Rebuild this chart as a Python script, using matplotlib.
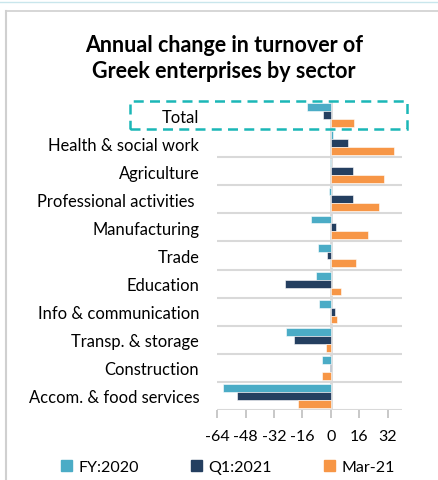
import matplotlib
matplotlib.use("Agg")
import matplotlib.pyplot as plt
from matplotlib.patches import Rectangle
from matplotlib.lines import Line2D
import numpy as np

plt.rcParams['font.family'] = ['Lato', 'DejaVu Sans']

sectors = ["Total", "Health & social work", "Agriculture", "Professional activities ",
           "Manufacturing", "Trade", "Education", "Info & communication",
           "Transp. & storage", "Construction", "Accom. & food services"]
fy2020 = [-13.2, 1.5, -0.3, -1.0, -11.1, -7.0, -8.5, -6.6, -25.0, -4.9, -61.0]
q1_2021 = [-4.5, 9.6, 12.4, 12.4, 3.2, -2.1, -25.8, 2.4, -20.5, -0.3, -52.8]
mar21 = [13.2, 35.6, 30.1, 27.3, 21.1, 14.5, 5.8, 3.4, -2.8, -4.7, -18.3]
series_names = ["FY:2020", "Q1:2021", "Mar-21"]
colors = ["#4BACC6", "#243F60", "#F79646"]
xticks = [-64, -48, -32, -16, 0, 16, 32]

W, H = 438, 481
fig = plt.figure(figsize=(W / 100, H / 100), dpi=100)

def fx(px):
    return px / W

def fy(py):
    return 1 - py / H

ax = fig.add_axes([fx(217.3), fy(411), fx(401.7) - fx(217.3), fy(102) - fy(411)])
n = len(sectors)
pos = np.arange(n)
bh = 0.28
for i, (vals, c) in enumerate(zip([fy2020, q1_2021, mar21], colors)):
    ax.barh(pos + (i - 1) * bh, vals, height=bh, color=c, edgecolor="white",
            linewidth=0.4, zorder=3)

ax.set_xlim(-64, 40)
ax.set_ylim(n - 0.5, -0.5)
for s in ax.spines.values():
    s.set_visible(False)
ax.axvline(0, color="#D9D9D9", lw=2, zorder=2)
ax.axhline(n - 0.5, color="#D9D9D9", lw=1.5, zorder=2)
for b in np.arange(1.5, n - 0.5, 1.0):
    ax.axhline(b, color="#D9D9D9", lw=1.5, zorder=1)

ax.set_xticks(xticks)
ax.set_xticklabels([str(t) for t in xticks], fontsize=11.5)
ax.tick_params(axis="x", length=6, width=1.2, color="#BFBFBF", pad=8)
ax.set_yticks(pos)
ax.set_yticklabels(sectors, fontsize=11.9)
ax.tick_params(axis="y", length=0, pad=13)

# frame of the chart area
fig.add_artist(Line2D([fx(5.5), fx(5.5)], [fy(12), 0], color="#D0D0D0", lw=1.5))
fig.add_artist(Line2D([fx(5.5), 1], [fy(12), fy(12)], color="#D0D0D0", lw=1.2))
fig.add_artist(Line2D([0, 1], [fy(3), fy(3)], color="#C9E6EC", lw=1.0))

fig.text(fx(224), fy(58.5), "Annual change in turnover of\nGreek enterprises by sector",
         ha="center", va="center", fontsize=15.5, fontweight="bold", linespacing=1.25)

# highlight box around the total
fig.add_artist(Rectangle((fx(130), fy(129.5)), fx(407) - fx(130), fy(102) - fy(129.5),
                         fill=False, edgecolor="#1BB7B7", lw=1.8, linestyle=(0, (4, 2.5))))

handles = [Rectangle((0, 0), 1, 1, color=c) for c in colors]
fig.legend(handles, series_names, loc="center", bbox_to_anchor=(fx(228), fy(468)),
           ncol=3, frameon=False, fontsize=11.5, handlelength=0.7, handleheight=0.7,
           handletextpad=0.4, columnspacing=3.25)

fig.savefig("out.png", dpi=100)
